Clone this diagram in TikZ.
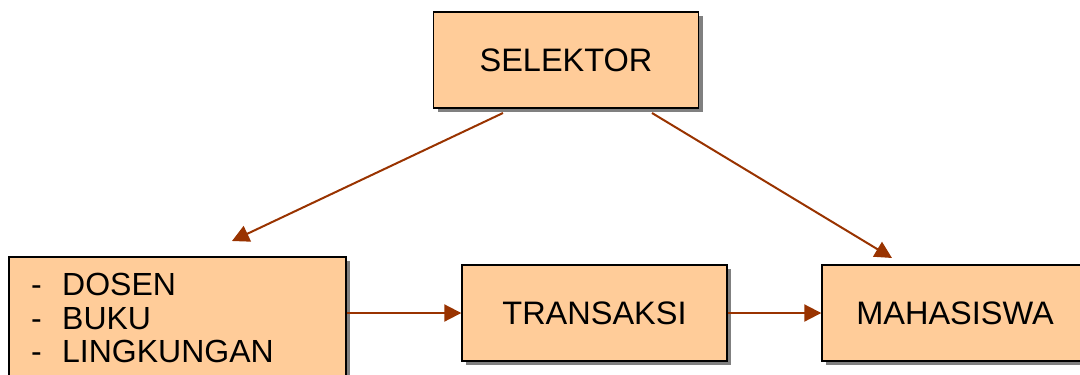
\documentclass[tikz,border=0pt]{standalone}
\usepackage{fontspec}
\setmainfont{Liberation Sans}
\usetikzlibrary{arrows.meta,shadows}
\definecolor{boxfill}{HTML}{FFCC99}
\definecolor{arrowred}{HTML}{993300}
\definecolor{shadowgray}{HTML}{808080}
\begin{document}
\begin{tikzpicture}[x=1bp,y=1bp,
  blockbox/.style={draw=black, line width=1.4bp, fill=boxfill, inner sep=0pt,
    minimum width=265bp, minimum height=96bp,
    font=\fontsize{32.5bp}{33.5bp}\selectfont,
    drop shadow={shadow xshift=4bp, shadow yshift=-4bp, fill=shadowgray, opacity=1}},
  listline/.style={anchor=base west, inner sep=0pt, font=\fontsize{32bp}{33.5bp}\selectfont},
  flow/.style={draw=arrowred, line width=2bp, -{Triangle[length=17bp,width=17bp]}}]
\useasboundingbox (0,0) rectangle (1080,-374);
\clip (0,0) rectangle (1080,-374);

% the four blocks
\node[blockbox] (sel) at (566,-60) {SELEKTOR};
\node[blockbox, minimum width=337bp, minimum height=150bp] (src) at (177.5,-332) {};
\node[blockbox] (tr) at (594.5,-313) {TRANSAKSI};
\node[blockbox, minimum width=266bp] (mhs) at (955,-313) {MAHASISWA};

% list inside the source block
\node[listline] (l1) at (31,-295) {\makebox[31bp][l]{-}DOSEN};
\node[listline] (l2) at (31,-329) {\makebox[31bp][l]{-}BUKU};
\node[listline] (l3) at (31,-362) {\makebox[31bp][l]{-}LINGKUNGAN};

% loose ends of the slanted connectors
\coordinate (s1) at (503,-113);
\coordinate (e1) at (232,-241);
\coordinate (s2) at (652,-113);
\coordinate (e2) at (892,-258);

\draw[flow] (s1) -- (e1);
\draw[flow] (s2) -- (e2);
\draw[flow] (src.east |- tr.west) -- (tr.west);
\draw[flow] (tr.east) -- (mhs.west);
\end{tikzpicture}
\end{document}
